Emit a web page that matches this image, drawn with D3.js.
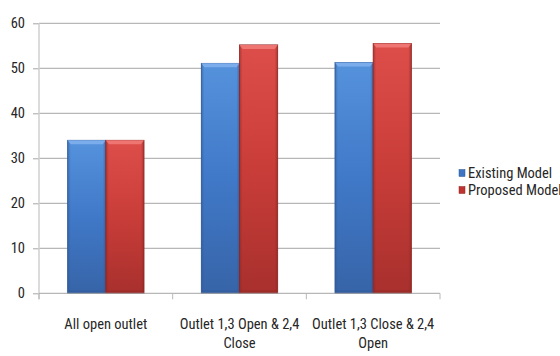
<!DOCTYPE html>
<html><head><meta charset="utf-8">
<script src="https://cdn.jsdelivr.net/npm/d3@7"></script>
<style>
html,body{margin:0;padding:0;background:#fff;}
svg text{font-family:"Liberation Sans Narrow","Arial Narrow","Roboto Condensed","DejaVu Sans Condensed",sans-serif;fill:#262626;}
</style></head>
<body><svg id="c" width="560" height="356"></svg>
<script>
const categories = [["All open outlet"], ["Outlet 1,3 Open & 2,4", "Close"], ["Outlet 1,3 Close & 2,4", "Open"]];
const seriesNames = ["Existing Model", "Proposed Model"];
const existingModel = [34, 51.1, 51.3];
const proposedModel = [34, 55.2, 55.5];
const yTicks = [0, 10, 20, 30, 40, 50, 60];

const svg = d3.select("#c");
const m = {l: 39, r: 440, t: 23.3, b: 293.3};
const x = d3.scaleBand().domain(d3.range(categories.length)).range([m.l, m.r]).padding(0);
const y = d3.scaleLinear().domain([0, 60]).range([m.b, m.t]);
const nS = 2, gap = 1.5;
const bw = x.bandwidth() / (nS + gap);
const seriesVals = [existingModel, proposedModel];

const defs = svg.append("defs");
const pal = [
  {top:"#5592dc", mid:"#4079c8", bot:"#3764a8", edge:"#2d5794", hi:"#7fb0ee", sw:"#3d75c4"},
  {top:"#dd4e4a", mid:"#c93d39", bot:"#a8302d", edge:"#8c2623", hi:"#f07a76", sw:"#c0332f"}
];
pal.forEach((p, i) => {
  const g = defs.append("linearGradient").attr("id", "g" + i).attr("x1", 0).attr("y1", 0).attr("x2", 0).attr("y2", 1);
  g.append("stop").attr("offset", "0%").attr("stop-color", p.top);
  g.append("stop").attr("offset", "50%").attr("stop-color", p.mid);
  g.append("stop").attr("offset", "100%").attr("stop-color", p.bot);
  const h = defs.append("linearGradient").attr("id", "h" + i).attr("x1", 0).attr("y1", 0).attr("x2", 1).attr("y2", 0);
  h.append("stop").attr("offset", "0%").attr("stop-color", p.edge).attr("stop-opacity", 0.55);
  h.append("stop").attr("offset", "8%").attr("stop-color", p.edge).attr("stop-opacity", 0);
  h.append("stop").attr("offset", "92%").attr("stop-color", p.edge).attr("stop-opacity", 0);
  h.append("stop").attr("offset", "100%").attr("stop-color", p.edge).attr("stop-opacity", 0.6);
});

// gridlines
svg.append("g").selectAll("line").data(yTicks.filter(d => d > 0)).join("line")
  .attr("x1", m.l).attr("x2", m.r).attr("y1", d => y(d)).attr("y2", d => y(d))
  .attr("stroke", "#a6a6a6").attr("stroke-width", 1);

// y axis
const yAxis = svg.append("g").attr("transform", `translate(${m.l},0)`)
  .call(d3.axisLeft(y).tickValues(yTicks).tickSize(6).tickPadding(8));
yAxis.select(".domain").remove();
yAxis.selectAll(".tick line").attr("stroke", "#a6a6a6");
yAxis.selectAll(".tick text").attr("font-size", 14.5).attr("fill", "#262626");
svg.append("line").attr("x1", m.l).attr("x2", m.l).attr("y1", m.t).attr("y2", m.b + 6)
  .attr("stroke", "#cfcfcf").attr("stroke-width", 1.5);

// bars
seriesVals.forEach((vals, s) => {
  const g = svg.append("g");
  const xs = i => x(i) + bw * gap / 2 + s * bw;
  g.selectAll("rect.b").data(vals).join("rect").attr("class", "b")
    .attr("x", (d, i) => xs(i)).attr("width", bw)
    .attr("y", d => y(d)).attr("height", d => y(0) - y(d))
    .attr("fill", `url(#g${s})`).attr("stroke", pal[s].edge).attr("stroke-width", 0.8);
  g.selectAll("rect.e").data(vals).join("rect").attr("class", "e")
    .attr("x", (d, i) => xs(i)).attr("width", bw)
    .attr("y", d => y(d)).attr("height", d => y(0) - y(d))
    .attr("fill", `url(#h${s})`);
  g.selectAll("path.t").data(vals).join("path").attr("class", "t")
    .attr("d", (d, i) => {
      const x0 = xs(i), x1 = x0 + bw, y0 = y(d);
      return `M${x0},${y0}L${x1},${y0}L${x1 - 3},${y0 + 4}L${x0 + 3},${y0 + 4}Z`;
    })
    .attr("fill", pal[s].hi).attr("opacity", 0.9);
  g.selectAll("rect.bt").data(vals).join("rect").attr("class", "bt")
    .attr("x", (d, i) => xs(i) + 1).attr("width", bw - 2)
    .attr("y", y(0) - 3).attr("height", 3)
    .attr("fill", pal[s].edge).attr("opacity", 0.35);
});

// x axis
const xAxis = svg.append("g").attr("transform", `translate(0,${m.b})`);
xAxis.append("line").attr("x1", m.l).attr("x2", m.r).attr("y1", 0).attr("y2", 0).attr("stroke", "#a6a6a6");
xAxis.selectAll("line.tk").data(d3.range(categories.length + 1)).join("line").attr("class", "tk")
  .attr("x1", i => m.l + i * x.step()).attr("x2", i => m.l + i * x.step())
  .attr("y1", 0).attr("y2", 6).attr("stroke", "#b8b8b8");
const lbl = xAxis.selectAll("text").data(categories).join("text")
  .attr("x", (d, i) => x(i) + x.bandwidth() / 2).attr("y", 36)
  .attr("text-anchor", "middle").attr("font-size", 14.5);
lbl.selectAll("tspan").data(d => d).join("tspan")
  .attr("x", function() { return this.parentNode.getAttribute("x"); })
  .attr("dy", (d, j) => j === 0 ? 0 : 19).text(d => d);

// legend
const leg = svg.append("g").attr("transform", "translate(459,0)");
const ly = [173, 190];
leg.selectAll("rect").data(seriesNames).join("rect")
  .attr("x", 0).attr("y", (d, i) => ly[i] - 3.5).attr("width", 6).attr("height", 7)
  .attr("fill", (d, i) => pal[i].sw).attr("stroke", (d, i) => pal[i].edge).attr("stroke-width", 0.5);
leg.selectAll("text").data(seriesNames).join("text")
  .attr("x", 9).attr("y", (d, i) => ly[i] + 5)
  .attr("font-size", 14.5).text(d => d);
</script></body></html>
